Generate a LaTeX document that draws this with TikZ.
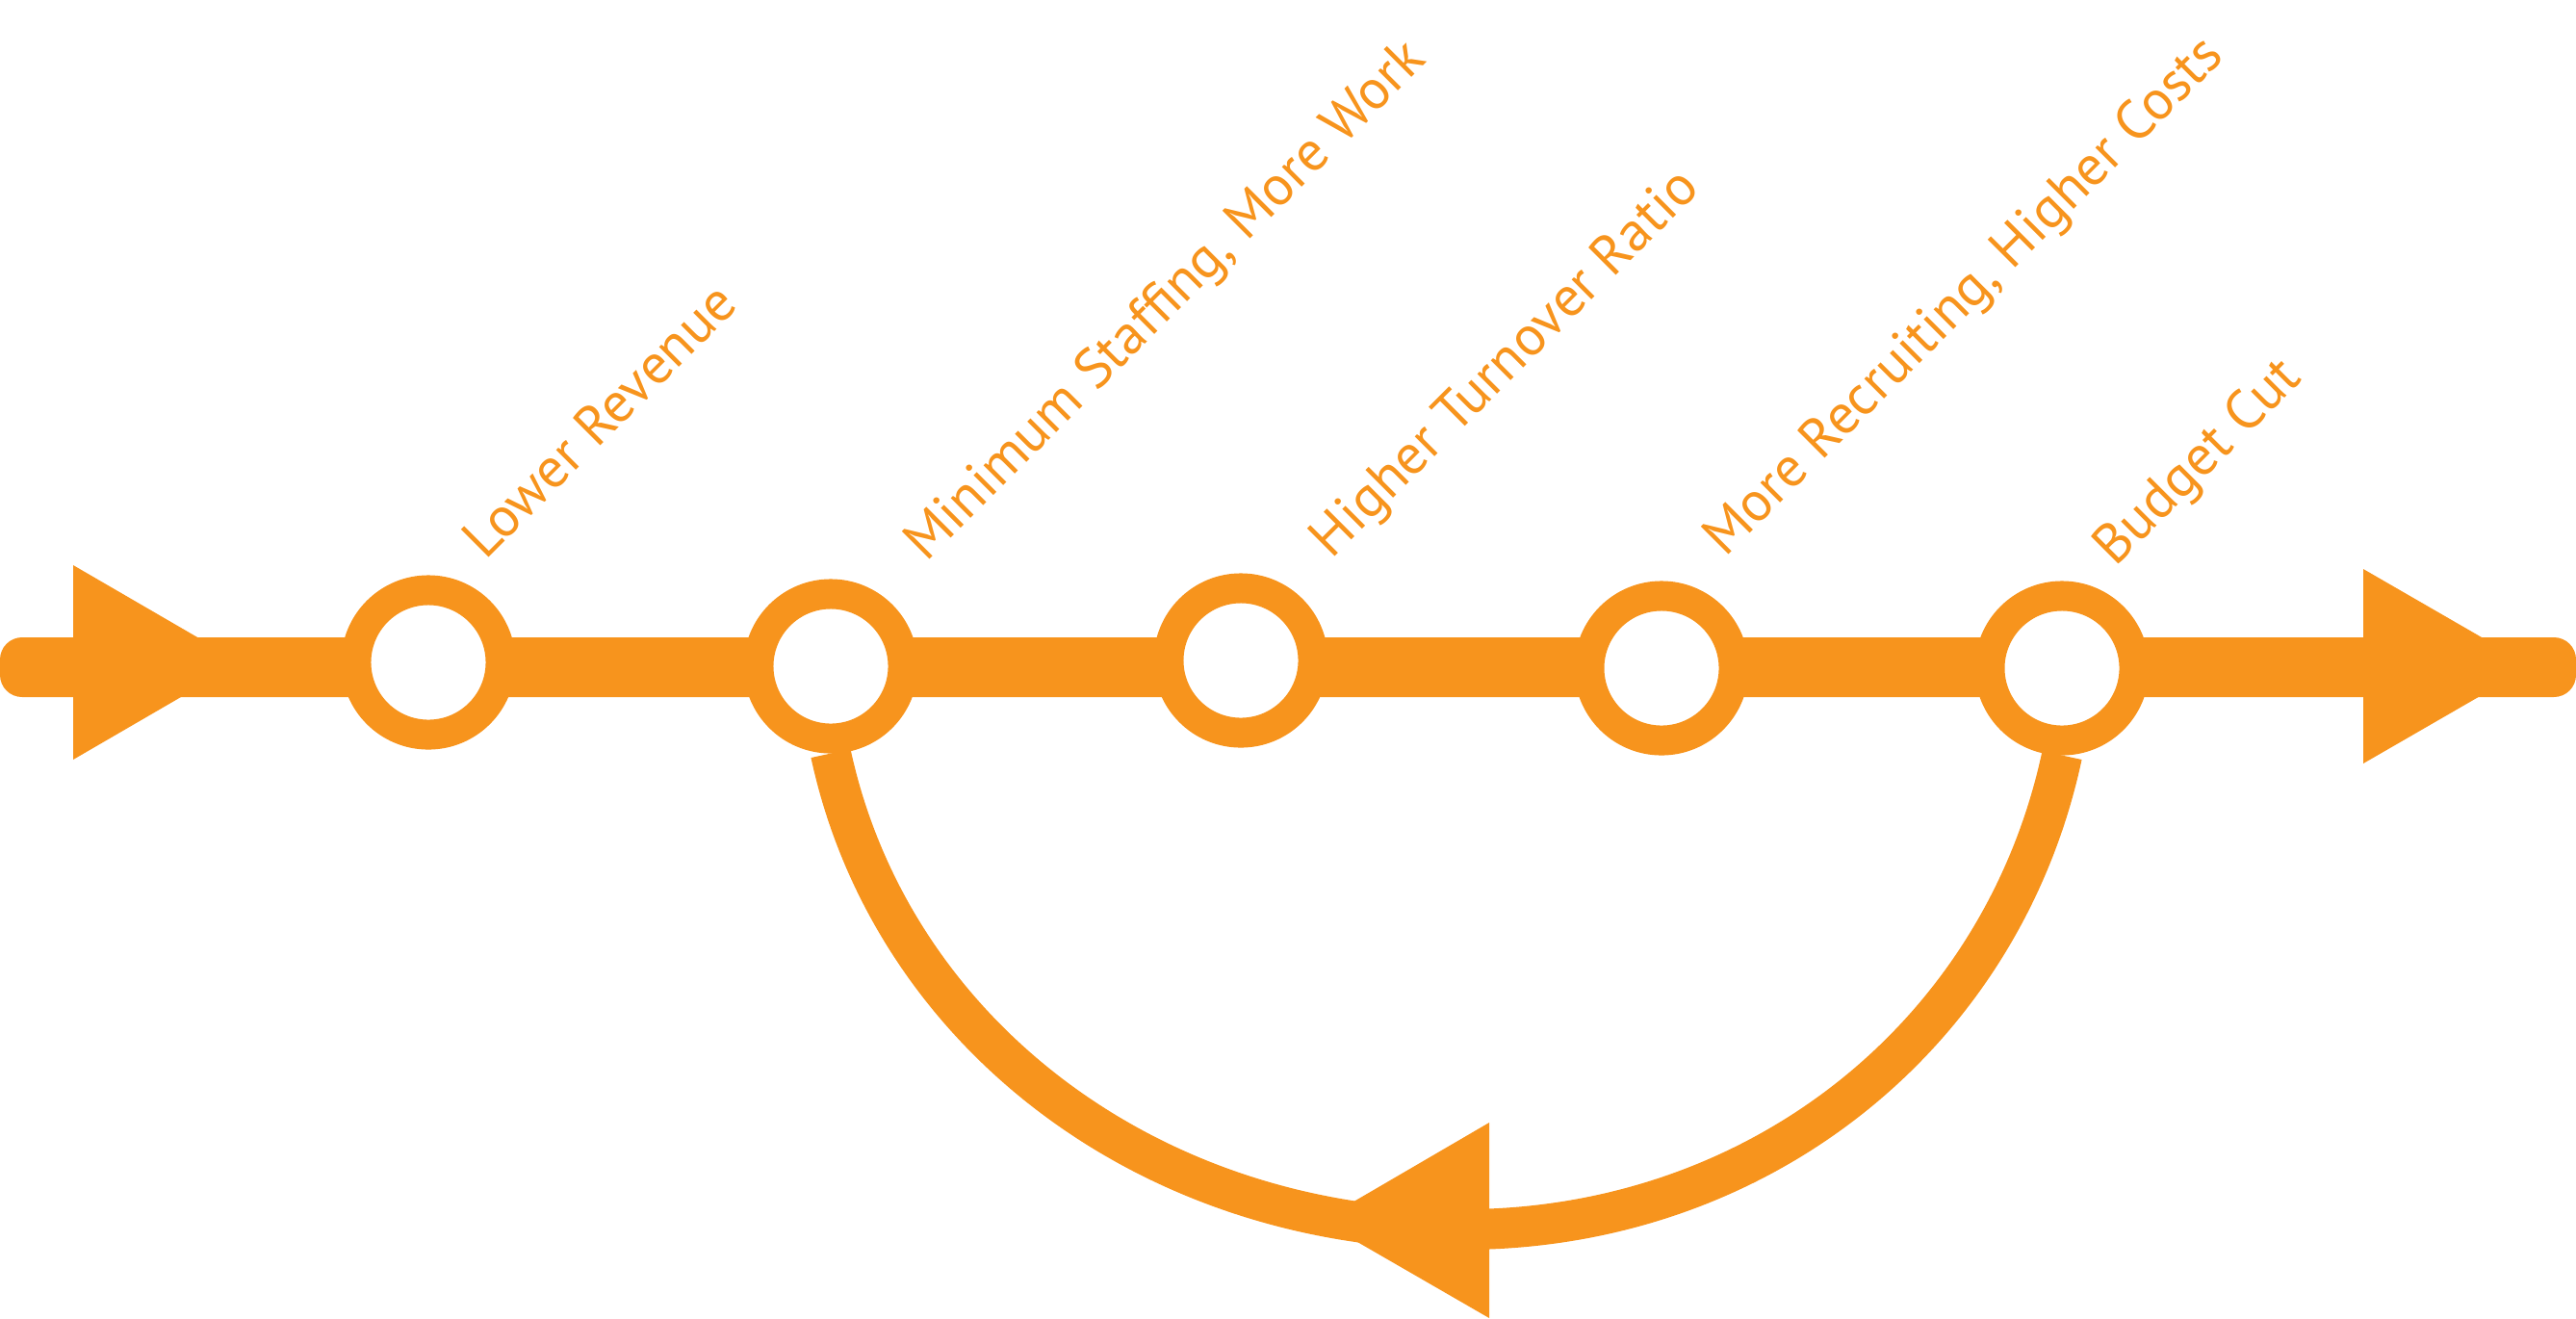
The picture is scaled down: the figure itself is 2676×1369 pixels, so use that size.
\documentclass[tikz,border=0pt]{standalone}
\usepackage{fontspec}
\newfontfamily\labelfont{PT Sans}
\definecolor{cycleorange}{HTML}{F7941D}
\tikzset{
  ring/.style={circle, draw=cycleorange, fill=white, line width=0.31cm, minimum size=1.5cm, inner sep=0pt},
  tri/.style={fill=cycleorange},
  lbl/.style={rotate=45, anchor=base west, inner sep=0pt, text=cycleorange, font=\labelfont\fontsize{16.5}{20}\selectfont},
  loopline/.style={draw=cycleorange, line width=0.42cm}
}
\begin{document}
\begin{tikzpicture}[x=0.01cm, y=-0.01cm]
  \useasboundingbox (0,0) rectangle (2676,1369);
  % main bar with its two heads
  \fill[cycleorange, rounded corners=0.23cm] (0,662) rectangle (2676,724);
  \fill[tri] (76,587) -- (250,688) -- (76,789) -- cycle;
  \fill[tri] (2455,591) -- (2630,692) -- (2455,793) -- cycle;
  \foreach \n/\cx/\cy in {1/445/688, 2/863/692, 3/1289/686, 4/1726/694, 5/2142/694}
    \node[ring] (c\n) at (\cx,\cy) {};
  % loop back from the last stop
  \coordinate (bot) at (1520,1277);
  \draw[loopline] (c5.south) .. controls +(-62,290) and +(307,0) .. (bot)
    .. controls +(-328,0) and +(62,288) .. (c2.south);
  \fill[tri] (1547,1166) -- (1372,1268) -- (1547,1369) -- cycle;
  \foreach \n/\lx/\ly/\txt in {1/504/583/{Lower Revenue}, 2/962/585/{Minimum Staffing, More Work},
      3/1383/582/{Higher Turnover Ratio}, 4/1792/580/{More Recruiting, Higher Costs}, 5/2197/590/{Budget Cut}}
    \node[lbl] (l\n) at (\lx,\ly) {\txt};
\end{tikzpicture}
\end{document}
